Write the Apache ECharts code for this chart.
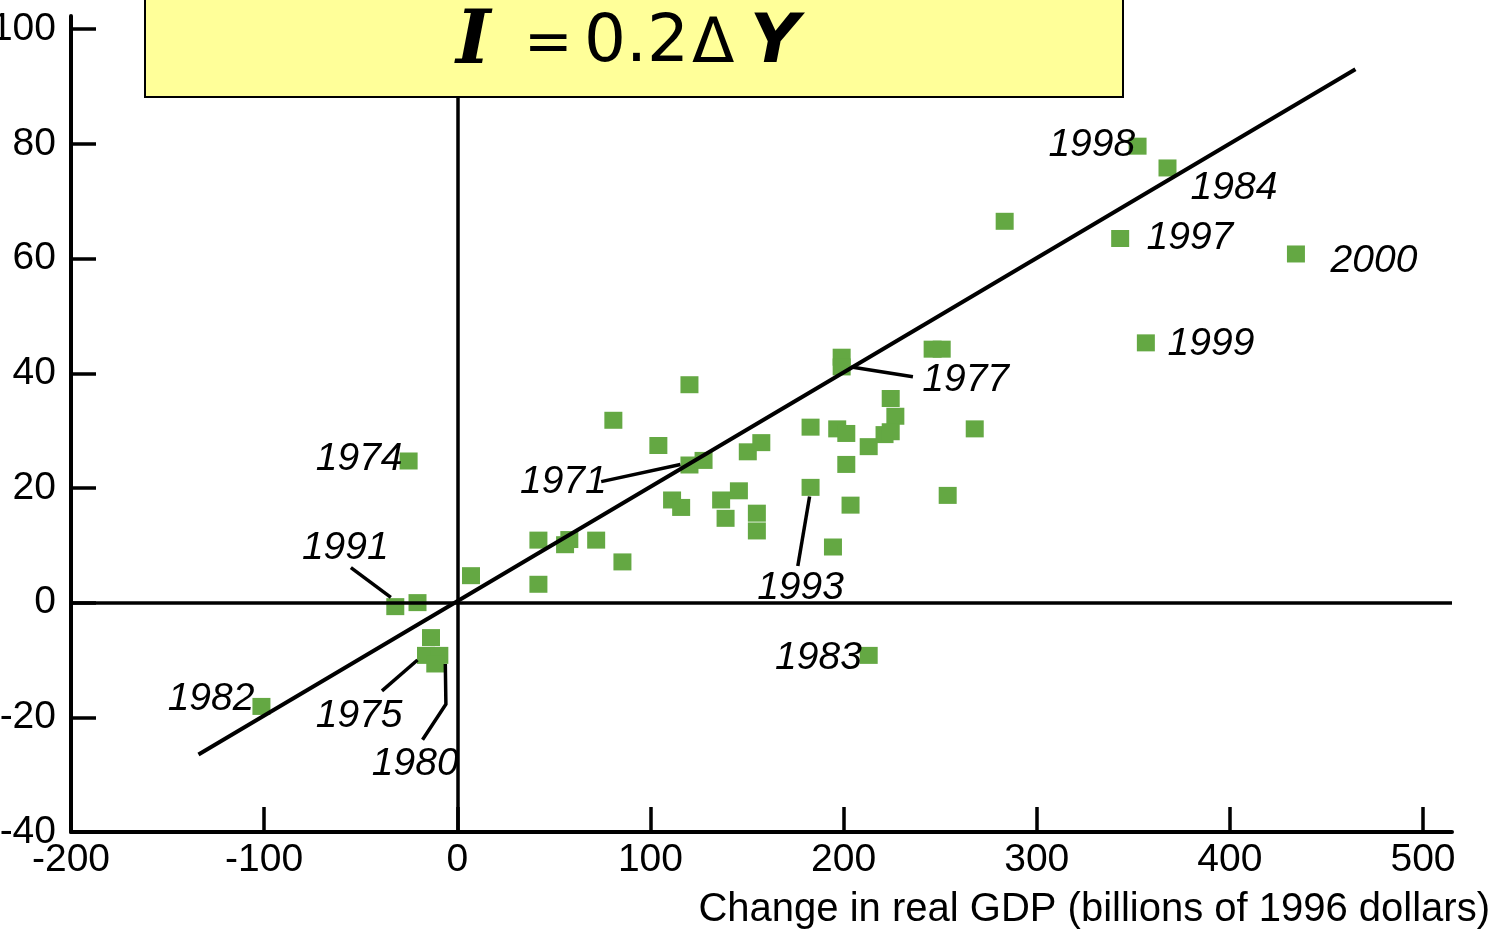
<!DOCTYPE html>
<html>
<head>
<meta charset="utf-8">
<script src="https://cdn.jsdelivr.net/npm/echarts@6/dist/echarts.min.js"></script>
<style>
html,body{margin:0;padding:0;background:#fff;}
#chart{width:1495px;height:933px;}
</style>
</head>
<body>
<div id="chart"></div>
<script>
// Change in real GDP (x) and investment (y), one entry per year
const gdpChange = [7.1, 42.0, 42.0, 55.8, 58.0, 71.9, 85.5, 80.8, 104.1, 120.2, 111.2, 115.9, 120.2, 127.5,
  136.6, 138.9, 145.8, 150.4, 157.4, 155.1, 155.1, 182.9, 182.9, 194.5, 199.0, 199.0, 196.7, 201.4,
  201.4, 203.6, 213.0, 224.4, 226.8, 221.2, 224.4, 246.1, 250.8, 253.9, 267.9, 283.4, 352.2, 367.7,
  343.2, 434.2, 356.5, 213.0, -25.2, -32.1, -20.6, -13.6, -16.2, -9.3, -11.4, -101.4];
const investment = [4.7, 3.2, 10.9, 10.1, 11.0, 10.9, 7.1, 31.8, 27.4, 38.0, 17.9, 16.6, 24.0, 24.8,
  17.9, 14.7, 19.5, 26.3, 27.9, 15.6, 12.5, 30.6, 20.1, 9.7, 42.8, 41.1, 30.3, 29.5,
  24.1, 17.0, 27.2, 35.6, 32.5, 29.3, 29.8, 44.2, 44.2, 18.7, 30.3, 66.5, 79.6, 75.8,
  63.5, 60.8, 45.3, -9.2, 24.7, -0.7, 0.0, -6.1, -9.2, -9.2, -10.7, -18.1];

// fitted line I = 0.2 ΔY, end points
const fitX = [-134, 465];
const fitY = [-26.5, 93];

// year annotations (text centre in data units)
const labelYears = ['1998', '1984', '1997', '2000', '1999', '1977', '1974', '1971', '1991', '1993', '1983', '1982', '1975', '1980'];
const labelX = [328.5, 402.1, 379.3, 474.6, 390.2, 263.2, -50.8, 54.9, -58.0, 177.7, 187.0, -127.5, -50.8, -21.8];
const labelY = [79.7, 72.3, 63.6, 59.6, 45.1, 38.8, 25.0, 21.0, 9.5, 2.6, -9.7, -16.8, -19.8, -28.2];

// leader lines joining labels to points (data units)
const leaders = [
  [[-55.1, 6.1], [-34.4, 0.9]],
  [[-39.0, -15.4], [-20.6, -10.0]],
  [[-18.0, -23.9], [-5.9, -17.7], [-6.2, -10.7]],
  [[74.5, 21.1], [115.5, 24.1]],
  [[176.3, 6.4], [182.4, 18.5]],
  [[235.9, 39.4], [204.0, 41.1]]
];

const xTicks = {min: -200, max: 515, interval: 100};
const yTicks = {min: -40, max: 102.3, interval: 20};

const FONT = 'Liberation Sans, Arial, sans-serif';
const chart = echarts.init(document.getElementById('chart'), null, {renderer: 'canvas'});

const points = gdpChange.map((x, i) => [x, investment[i]]);
const labelPts = labelYears.map((t, i) => ({name: t, value: [labelX[i], labelY[i]]}));

const option = {
  animation: false,
  backgroundColor: '#ffffff',
  grid: {left: 71, right: 43, top: 16, bottom: 101, containLabel: false, outerBoundsMode: 'none'},
  xAxis: {
    type: 'value', min: xTicks.min, max: xTicks.max, interval: xTicks.interval,
    axisLine: {show: true, onZero: false, lineStyle: {color: '#000', width: 4}},
    axisTick: {show: true, inside: true, length: 25, lineStyle: {color: '#000', width: 3.5}},
    axisLabel: {color: '#000', fontSize: 39, fontFamily: FONT, margin: 9, showMaxLabel: false},
    splitLine: {show: false}
  },
  yAxis: {
    type: 'value', min: yTicks.min, max: yTicks.max, interval: yTicks.interval,
    axisLine: {show: true, onZero: false, lineStyle: {color: '#000', width: 4}},
    axisTick: {show: true, inside: true, length: 25, lineStyle: {color: '#000', width: 3.5}},
    axisLabel: {color: '#000', fontSize: 39, fontFamily: FONT, margin: 15, showMaxLabel: false},
    splitLine: {show: false}
  },
  series: [
    {
      type: 'scatter', name: 'points', data: points, symbol: 'rect', symbolSize: [18, 17],
      itemStyle: {color: '#64a843', opacity: 1}, z: 2,
      markLine: {
        silent: true, symbol: ['none', 'none'], label: {show: false},
        lineStyle: {color: '#000', width: 3.5, type: 'solid', opacity: 1},
        data: [{xAxis: 0}, {yAxis: 0}]
      }
    },
    {
      type: 'line', name: 'fit', data: fitX.map((x, i) => [x, fitY[i]]), showSymbol: false,
      symbol: 'none', lineStyle: {color: '#000', width: 4, opacity: 1}, z: 4
    },
    {
      type: 'lines', coordinateSystem: 'cartesian2d', polyline: true, z: 4,
      lineStyle: {color: '#000', width: 3.5, opacity: 1},
      data: leaders.map(c => ({coords: c}))
    },
    {
      type: 'scatter', name: 'years', data: labelPts, symbolSize: 0, z: 5,
      itemStyle: {opacity: 1},
      label: {
        show: true, position: 'inside', formatter: p => p.name, color: '#000', opacity: 1,
        fontSize: 39, fontStyle: 'italic', fontFamily: FONT
      }
    }
  ],
  graphic: [
    {
      type: 'rect', z: 100, shape: {x: 145, y: -4, width: 978, height: 101},
      style: {fill: '#ffff99', stroke: '#000', lineWidth: 2}
    },
    {type: 'text', z: 101, x: 456, y: 44, style: {text: 'I', font: 'italic bold 74px "DejaVu Serif", serif', fill: '#000', verticalAlign: 'middle'}},
    {type: 'text', z: 101, x: 524, y: 46, style: {text: '=', font: '58px "DejaVu Sans", sans-serif', fill: '#000', verticalAlign: 'middle'}},
    {type: 'text', z: 101, x: 584, y: 44, style: {text: '0.2', font: '66px "DejaVu Sans", sans-serif', fill: '#000', verticalAlign: 'middle'}},
    {type: 'text', z: 101, x: 692, y: 46, style: {text: 'Δ', font: '62px "DejaVu Sans", sans-serif', fill: '#000', verticalAlign: 'middle'}},
    {type: 'text', z: 101, x: 750, y: 44, style: {text: 'Y', font: 'italic bold 68px "DejaVu Sans", sans-serif', fill: '#000', verticalAlign: 'middle'}},
    {
      type: 'text', z: 101, right: 5, top: 890,
      style: {text: 'Change in real GDP (billions of 1996 dollars)', font: '40px ' + FONT, fill: '#000'}
    }
  ]
};
chart.setOption(option);
</script>
</body>
</html>
